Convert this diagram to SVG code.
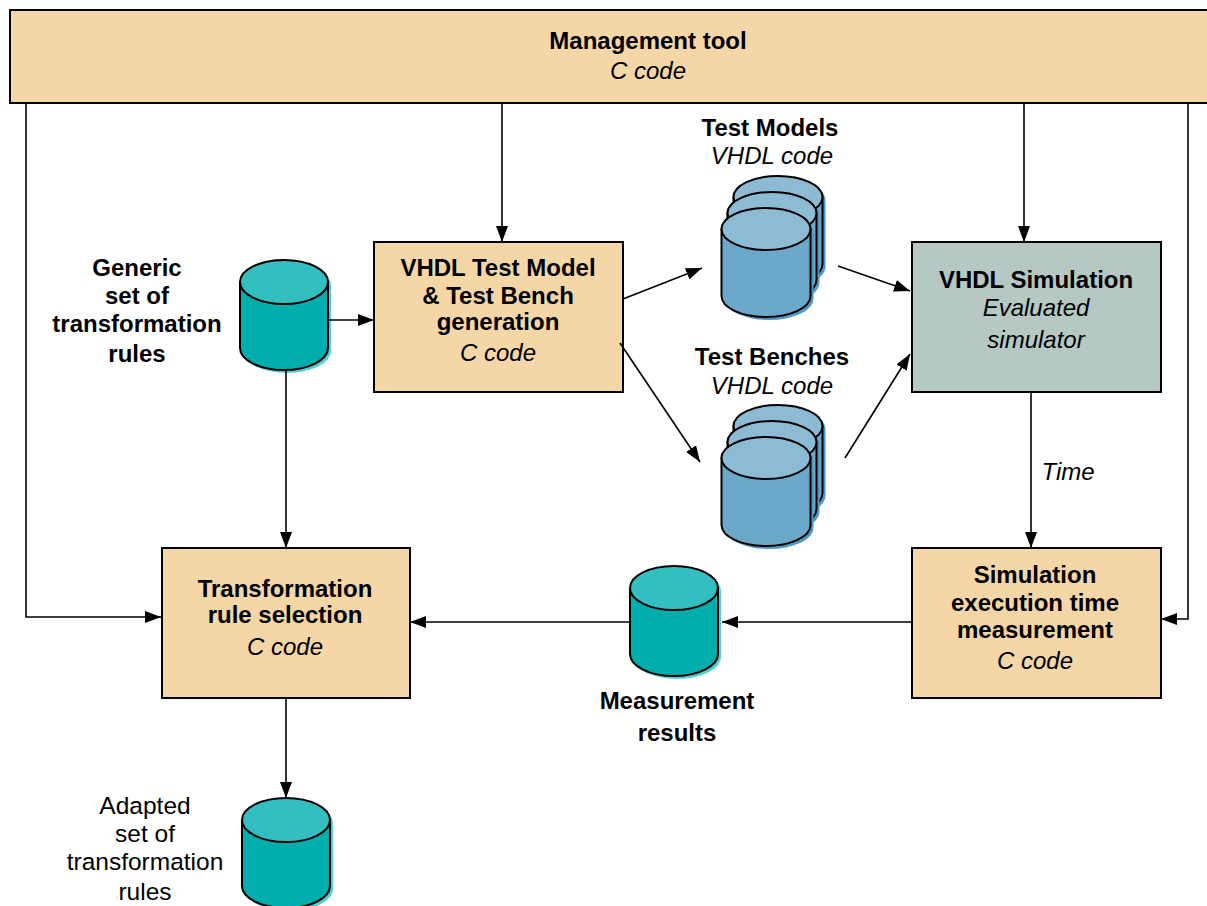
<svg xmlns="http://www.w3.org/2000/svg" width="1207" height="906" viewBox="0 0 1207 906">
<style>
text{font-family:"Liberation Sans",Arial,sans-serif;font-size:24px;fill:#000;text-anchor:middle}
.b{font-weight:bold}
.i{font-style:italic}
.r{font-size:24.5px}
.box{fill:#F4D6A7;stroke:#000;stroke-width:2}
.sim{fill:#B5C8C4;stroke:#000;stroke-width:2}
.ln{fill:none;stroke:#000;stroke-width:1.6}
.cyl{stroke:#000;stroke-width:2;stroke-linejoin:round}
</style>
<defs>
<marker id="ah" viewBox="0 0 16 12" refX="16" refY="6" markerWidth="16" markerHeight="12" markerUnits="userSpaceOnUse" orient="auto">
<path d="M0,0 L16,6 L0,12 Z" fill="#000"/>
</marker>
<g id="teal">
<path d="M-41,3 V69 A44 22 0 0 0 47,69 V3 A44 22 0 0 0 -41,3 Z" fill="#55CFCF"/>
<path class="cyl" d="M-44,0 V66 A44 22 0 0 0 44,66 V0 Z" fill="#00ADAD"/>
<ellipse class="cyl" cx="0" cy="0" rx="44" ry="22" fill="#33BFBF"/>
</g>
<g id="blue">
<path d="M-41.5,3 V70 A44.5 21 0 0 0 47.5,70 V3 A44.5 21 0 0 0 -41.5,3 Z" fill="#4F97C4"/>
<path class="cyl" d="M-44.5,0 V67 A44.5 21 0 0 0 44.5,67 V0 Z" fill="#6CA8C9"/>
<ellipse class="cyl" cx="0" cy="0" rx="44.5" ry="21" fill="#8DBBD4"/>
</g>
</defs>

<g id="management-tool">
<rect class="box" x="10" y="10" width="1210" height="93"/>
<text class="b" x="648" y="49">Management tool</text>
<text class="i" x="648" y="79">C code</text>
</g>

<g id="generic-rules">
<use href="#teal" x="284" y="282"/>
<text class="b" x="137" y="276">Generic</text>
<text class="b" x="137" y="304">set of</text>
<text class="b" x="137" y="332">transformation</text>
<text class="b" x="137" y="362">rules</text>
</g>

<g id="tm-generation">
<rect class="box" x="374" y="242" width="249" height="150"/>
<text class="b" x="498" y="276">VHDL Test Model</text>
<text class="b" x="498" y="304">&amp; Test Bench</text>
<text class="b" x="498" y="330">generation</text>
<text class="i" x="498" y="361">C code</text>
</g>

<g id="test-models">
<use href="#blue" x="778" y="197"/>
<use href="#blue" x="772" y="213"/>
<use href="#blue" x="766" y="229"/>
<text class="b" x="770" y="136">Test Models</text>
<text class="i" x="772" y="164">VHDL code</text>
</g>

<g id="test-benches">
<use href="#blue" x="778" y="426"/>
<use href="#blue" x="772" y="442"/>
<use href="#blue" x="766" y="458"/>
<text class="b" x="772" y="365">Test Benches</text>
<text class="i" x="772" y="394">VHDL code</text>
</g>

<g id="vhdl-simulation">
<rect class="sim" x="912" y="242" width="249" height="150"/>
<text class="b" x="1036" y="288">VHDL Simulation</text>
<text class="i" x="1036" y="316">Evaluated</text>
<text class="i" x="1036" y="348">simulator</text>
</g>

<g id="sim-exec-time">
<rect class="box" x="912" y="548" width="249" height="150"/>
<text class="b" x="1035" y="583">Simulation</text>
<text class="b" x="1035" y="611">execution time</text>
<text class="b" x="1035" y="638">measurement</text>
<text class="i" x="1035" y="669">C code</text>
</g>

<g id="measurement-results">
<use href="#teal" x="674" y="588"/>
<text class="b" x="677" y="709">Measurement</text>
<text class="b" x="677" y="741">results</text>
</g>

<g id="rule-selection">
<rect class="box" x="162" y="548" width="248" height="150"/>
<text class="b" x="285" y="597">Transformation</text>
<text class="b" x="285" y="623">rule selection</text>
<text class="i" x="285" y="655">C code</text>
</g>

<g id="adapted-rules">
<use href="#teal" x="286" y="820"/>
<text class="r" x="145" y="814">Adapted</text>
<text class="r" x="145" y="842">set of</text>
<text class="r" x="145" y="870">transformation</text>
<text class="r" x="145" y="900">rules</text>
</g>

<g id="connectors">
<path class="ln" d="M26,103 V617 H161" marker-end="url(#ah)"/>
<path class="ln" d="M502,103 V242" marker-end="url(#ah)"/>
<path class="ln" d="M1024,103 V242" marker-end="url(#ah)"/>
<path class="ln" d="M1188,103 V619 H1161" marker-end="url(#ah)"/>
<path class="ln" d="M328,320 H374" marker-end="url(#ah)"/>
<path class="ln" d="M286,370 V548" marker-end="url(#ah)"/>
<path class="ln" d="M623,299 L702,268" marker-end="url(#ah)"/>
<path class="ln" d="M620,343 L700,462" marker-end="url(#ah)"/>
<path class="ln" d="M838,266 L910,291" marker-end="url(#ah)"/>
<path class="ln" d="M845,458 L910,354" marker-end="url(#ah)"/>
<path class="ln" d="M1031,392 V548" marker-end="url(#ah)"/>
<text class="i" x="1068" y="480">Time</text>
<path class="ln" d="M912,622 H722" marker-end="url(#ah)"/>
<path class="ln" d="M630,622 H410" marker-end="url(#ah)"/>
<path class="ln" d="M286,698 V798" marker-end="url(#ah)"/>
</g>
</svg>
